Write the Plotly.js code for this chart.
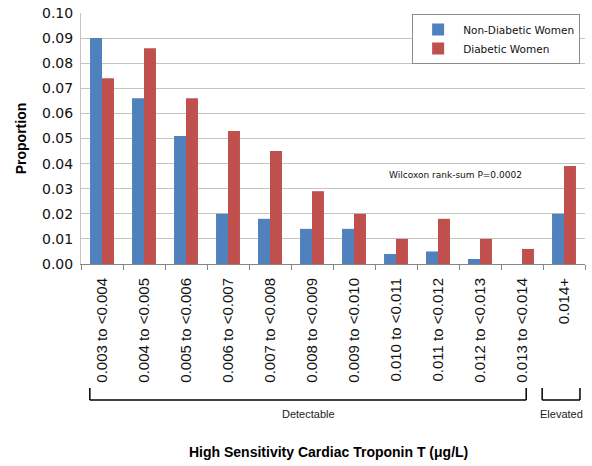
<!DOCTYPE html>
<html><head><meta charset="utf-8">
<script src="https://cdn.plot.ly/plotly-3.0.1.min.js"></script>
<style>html,body{margin:0;padding:0;background:#fff}#chart{width:592px;height:466px}</style>
</head><body><div id="chart"></div>
<script>
const categories = ["0.003 to <0.004","0.004 to <0.005","0.005 to <0.006","0.006 to <0.007","0.007 to <0.008","0.008 to <0.009","0.009 to <0.010","0.010 to <0.011","0.011 to <0.012","0.012 to <0.013","0.013 to <0.014","0.014+"];
const nonDiabetic = [0.090,0.066,0.051,0.020,0.018,0.014,0.014,0.004,0.005,0.002,0,0.020];
const diabetic = [0.074,0.086,0.066,0.053,0.045,0.029,0.020,0.010,0.018,0.010,0.006,0.039];
const seriesNames = ["Non-Diabetic Women","Diabetic Women"];
const groupLabels = ["Detectable","Elevated"];

const traces = [
  {type:'bar', x:categories, y:nonDiabetic, name:seriesNames[0], marker:{color:'#4F81BD'}},
  {type:'bar', x:categories, y:diabetic, name:seriesNames[1], marker:{color:'#C0504D'}}
];

const bracketY0 = -0.494, bracketY1 = -0.542;
const brackets = [[-0.29,10.1],[10.48,11.38]];
const shapes = [];
brackets.forEach(([a,b])=>{
  const ln = {color:'#000', width:1.5};
  shapes.push({type:'line', xref:'x', yref:'paper', x0:a, x1:a, y0:bracketY0, y1:bracketY1, line:ln});
  shapes.push({type:'line', xref:'x', yref:'paper', x0:a, x1:b, y0:bracketY1, y1:bracketY1, line:ln});
  shapes.push({type:'line', xref:'x', yref:'paper', x0:b, x1:b, y0:bracketY1, y1:bracketY0, line:ln});
});

const layout = {
  width:592, height:466,
  margin:{l:81, r:7, t:13, b:202},
  paper_bgcolor:'#fff', plot_bgcolor:'#fff',
  barmode:'group', bargap:0.43, bargroupgap:0,
  font:{family:'Liberation Sans, Arial, sans-serif', color:'#000'},
  xaxis:{
    type:'category', tickangle:-90, tickson:'boundaries', ticks:'outside', ticklen:5,
    tickcolor:'#868686', showline:true, linecolor:'#868686', linewidth:1,
    tickfont:{family:'Liberation Sans, Arial, sans-serif', size:15, color:'#111'},
    showgrid:false, ticklabelstandoff:7
  },
  yaxis:{
    range:[0,0.1], dtick:0.01, tickformat:'.2f',
    showgrid:true, gridcolor:'#c4c4c4', gridwidth:1,
    showline:true, linecolor:'#c4c4c4', ticks:'', zeroline:false,
    tickfont:{family:'DejaVu Sans, sans-serif', size:14, color:'#111'},
    ticklabelstandoff:4,
    title:{text:'<b>Proportion</b>', font:{size:14, color:'#000'}, standoff:12}
  },
  legend:{x:0.657, y:0.996, xanchor:'left', yanchor:'top', bgcolor:'#fff',
    bordercolor:'#8c8c8c', borderwidth:1, font:{family:'DejaVu Sans, sans-serif', size:10.5, color:'#111'},
    tracegroupgap:0, itemwidth:40},
  shapes:shapes,
  annotations:[
    {text:'Wilcoxon rank-sum P=0.0002', xref:'paper', yref:'paper', x:(455-81)/504, y:(264-175)/251,
     xanchor:'center', yanchor:'middle',
     showarrow:false, font:{family:'DejaVu Sans, sans-serif', size:9, color:'#111'}},
    {text:groupLabels[0], xref:'x', yref:'paper', x:(-0.29+10.1)/2, y:(264-414)/251, xanchor:'center', yanchor:'middle',
     showarrow:false, font:{size:11, color:'#222'}},
    {text:groupLabels[1], xref:'x', yref:'paper', x:(10.48+11.38)/2, y:(264-414)/251, xanchor:'center', yanchor:'middle',
     showarrow:false, font:{size:11, color:'#222'}},
    {text:'<b>High Sensitivity Cardiac Troponin T (μg/L)</b>', xref:'paper', yref:'paper', x:(328-81)/504, y:(264-452)/251,
     xanchor:'center', yanchor:'middle', showarrow:false, font:{size:14, color:'#000'}}
  ]
};
Plotly.newPlot('chart', traces, layout, {displayModeBar:false, staticPlot:true});
</script></body></html>
